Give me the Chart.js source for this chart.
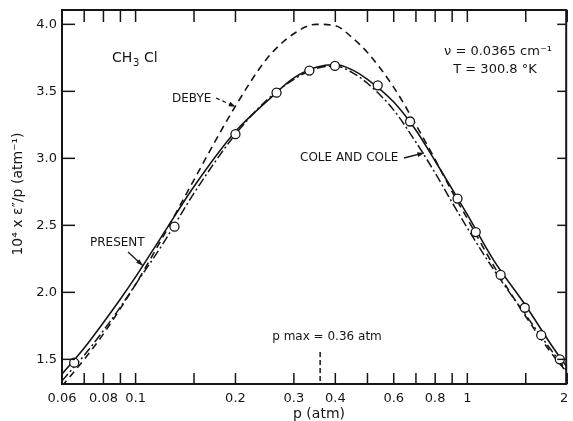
<!DOCTYPE html>
<html>
<head>
<meta charset="utf-8">
<script src="https://cdn.jsdelivr.net/npm/chart.js@4.4.1/dist/chart.umd.min.js"></script>
<style>
  body { margin: 0; background: #fff; }
  #grafico { display: block; }
</style>
</head>
<body>
<canvas id="grafico" width="573" height="421"></canvas>
<script>
// pressao (atm) onde as curvas foram lidas
const pCurva = [0.06, 0.07, 0.08, 0.09, 0.1, 0.12, 0.15, 0.2, 0.25, 0.3, 0.35, 0.4, 0.45, 0.5, 0.6, 0.7, 0.8, 0.9, 1.0, 1.2, 1.5, 1.8, 2.0];
// curva "PRESENT" (linha cheia)
const presente = [1.39, 1.585, 1.775, 1.95, 2.115, 2.42, 2.79, 3.20, 3.43, 3.60, 3.68, 3.70, 3.66, 3.59, 3.42, 3.21, 2.98, 2.77, 2.58, 2.24, 1.90, 1.60, 1.44];
// curva "DEBYE" (tracejada)
const debye = [1.30, 1.50, 1.69, 1.88, 2.06, 2.40, 2.84, 3.39, 3.75, 3.93, 4.00, 3.99, 3.90, 3.79, 3.53, 3.25, 2.99, 2.75, 2.55, 2.20, 1.82, 1.54, 1.40];
// curva "COLE AND COLE" (traco-ponto)
const coleCole = [1.34, 1.53, 1.715, 1.89, 2.06, 2.35, 2.74, 3.18, 3.44, 3.59, 3.67, 3.69, 3.64, 3.56, 3.36, 3.12, 2.89, 2.67, 2.48, 2.17, 1.83, 1.56, 1.41];

// pontos medidos (circulos)
const pMedido = [0.0653, 0.131, 0.200, 0.266, 0.334, 0.399, 0.537, 0.672, 0.934, 1.06, 1.26, 1.49, 1.67, 1.90];
const epsMedido = [1.475, 2.49, 3.18, 3.49, 3.655, 3.69, 3.545, 3.275, 2.70, 2.45, 2.13, 1.885, 1.68, 1.50];

// eixos
const ticksX = [0.06, 0.07, 0.08, 0.09, 0.1, 0.15, 0.2, 0.3, 0.4, 0.5, 0.6, 0.7, 0.8, 0.9, 1, 1.5, 2];
const rotulosX = [0.06, 0.08, 0.1, 0.2, 0.3, 0.4, 0.6, 0.8, 1, 2];
const ticksY = [1.5, 2.0, 2.5, 3.0, 3.5, 4.0];
const pMax = 0.36;

const FONTE = '"DejaVu Sans", sans-serif';
const PRETO = '#151515';

function juntar(xs, ys) {
    return xs.map(function (v, i) { return { x: v, y: ys[i] }; });
}

function linha(ctx, x1, y1, x2, y2) {
    ctx.beginPath();
    ctx.moveTo(x1, y1);
    ctx.lineTo(x2, y2);
    ctx.stroke();
}

function seta(ctx, x1, y1, x2, y2, tracejado) {
    ctx.save();
    ctx.lineWidth = 1.3;
    if (tracejado) ctx.setLineDash([4, 3]);
    linha(ctx, x1, y1, x2, y2);
    ctx.setLineDash([]);
    const ang = Math.atan2(y2 - y1, x2 - x1);
    ctx.beginPath();
    ctx.moveTo(x2, y2);
    ctx.lineTo(x2 - 7 * Math.cos(ang - 0.35), y2 - 7 * Math.sin(ang - 0.35));
    ctx.lineTo(x2 - 7 * Math.cos(ang + 0.35), y2 - 7 * Math.sin(ang + 0.35));
    ctx.closePath();
    ctx.fill();
    ctx.restore();
}

const moldura = {
    id: 'moldura',
    afterDraw(chart) {
        const ctx = chart.ctx;
        const a = chart.chartArea;
        const x = chart.scales.x;
        const y = chart.scales.y;
        const direita = a.right - 1;

        ctx.save();
        ctx.strokeStyle = PRETO;
        ctx.fillStyle = PRETO;

        // caixa
        ctx.lineWidth = 2;
        ctx.strokeRect(a.left, a.top, direita - a.left, a.bottom - a.top);

        // ticks
        ctx.lineWidth = 1.5;
        ticksX.forEach(function (v) {
            const px = x.getPixelForValue(v);
            linha(ctx, px, a.bottom, px, a.bottom - 11);
            linha(ctx, px, a.top, px, a.top + 12);
        });
        ticksY.forEach(function (v) {
            const py = y.getPixelForValue(v);
            linha(ctx, a.left, py, a.left + 13, py);
            linha(ctx, direita, py, direita - 9, py);
        });

        // rotulos dos ticks
        ctx.font = '13px ' + FONTE;
        ctx.textAlign = 'center';
        ctx.textBaseline = 'alphabetic';
        rotulosX.forEach(function (v) {
            let px = x.getPixelForValue(v);
            if (v === 2) px = a.right - 3;
            ctx.fillText(String(v), px, 402);
        });
        ctx.textAlign = 'right';
        ctx.textBaseline = 'middle';
        ticksY.forEach(function (v) {
            ctx.fillText(v.toFixed(1), a.left - 5, y.getPixelForValue(v));
        });

        // titulos
        ctx.font = '14px ' + FONTE;
        ctx.textAlign = 'center';
        ctx.textBaseline = 'middle';
        ctx.fillText('p (atm)', 319, 414);
        ctx.save();
        ctx.translate(18, 194);
        ctx.rotate(-Math.PI / 2);
        ctx.fillText('10\u2074 x \u03b5\u2033/p (atm\u207b\u00b9)', 0, 0);
        ctx.restore();

        // CH3Cl
        ctx.textAlign = 'left';
        ctx.textBaseline = 'alphabetic';
        ctx.font = '14px ' + FONTE;
        ctx.fillText('CH', 112, 62);
        ctx.font = '10px ' + FONTE;
        ctx.fillText('3', 133, 66);
        ctx.font = '14px ' + FONTE;
        ctx.fillText('Cl', 144, 62);

        // condicoes
        ctx.font = '13px ' + FONTE;
        ctx.textAlign = 'center';
        ctx.textBaseline = 'middle';
        ctx.fillText('\u03bd = 0.0365 cm\u207b\u00b9', 498, 52);
        ctx.fillText('T = 300.8 \u00b0K', 495, 70);

        // nomes das curvas
        ctx.font = '12px ' + FONTE;
        ctx.textAlign = 'left';
        ctx.fillText('DEBYE', 172, 99);
        seta(ctx, 216, 98, x.getPixelForValue(0.2), y.getPixelForValue(3.385), true);
        ctx.fillText('COLE AND COLE', 300, 158);
        seta(ctx, 404, 158, x.getPixelForValue(0.74), y.getPixelForValue(3.04), false);
        ctx.fillText('PRESENT', 90, 243);
        seta(ctx, 128, 252, x.getPixelForValue(0.105), y.getPixelForValue(2.20), false);

        // p max
        ctx.textAlign = 'center';
        ctx.fillText('p max = 0.36 atm', 327, 337);
        ctx.lineWidth = 1.5;
        ctx.setLineDash([5, 3]);
        const pxMax = x.getPixelForValue(pMax);
        linha(ctx, pxMax, 352, pxMax, a.bottom);
        ctx.setLineDash([]);

        ctx.restore();
    }
};

const config = {
    type: 'scatter',
    data: {
        datasets: [
            {
                label: 'medidos',
                data: juntar(pMedido, epsMedido),
                pointRadius: 4.5,
                pointBackgroundColor: '#fff',
                pointBorderColor: PRETO,
                pointBorderWidth: 1.3,
                showLine: false,
                order: 0
            },
            {
                label: 'PRESENT',
                data: juntar(pCurva, presente),
                showLine: true,
                borderColor: PRETO,
                borderWidth: 1.6,
                pointRadius: 0,
                cubicInterpolationMode: 'monotone',
                order: 1
            },
            {
                label: 'DEBYE',
                data: juntar(pCurva, debye),
                showLine: true,
                borderColor: PRETO,
                borderWidth: 1.6,
                borderDash: [7, 5],
                pointRadius: 0,
                cubicInterpolationMode: 'monotone',
                order: 2
            },
            {
                label: 'COLE AND COLE',
                data: juntar(pCurva, coleCole),
                showLine: true,
                borderColor: PRETO,
                borderWidth: 1.5,
                borderDash: [9, 3, 2, 3],
                pointRadius: 0,
                cubicInterpolationMode: 'monotone',
                order: 3
            }
        ]
    },
    options: {
        responsive: false,
        animation: false,
        events: [],
        layout: { padding: { left: 62, top: 10, right: 0, bottom: 37 } },
        plugins: {
            legend: { display: false },
            tooltip: { enabled: false }
        },
        scales: {
            x: { type: 'logarithmic', min: 0.06, max: 2, display: false },
            y: { type: 'linear', min: 1.316, max: 4.107, display: false }
        }
    },
    plugins: [moldura]
};

new Chart(document.getElementById('grafico'), config);
</script>
</body>
</html>
